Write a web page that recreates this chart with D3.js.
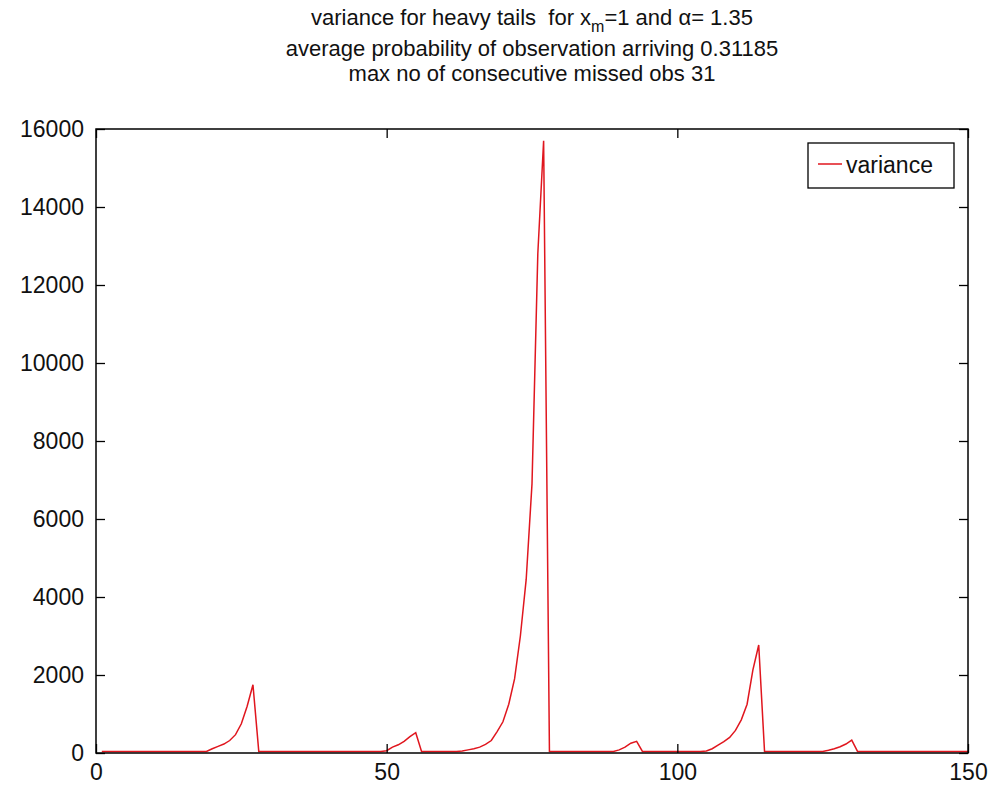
<!DOCTYPE html>
<html>
<head>
<meta charset="utf-8">
<script src="https://cdn.jsdelivr.net/npm/d3@7"></script>
<style>
  body { margin: 0; background: #fff; }
  svg { display: block; }
  text { font-family: "Liberation Sans", Arial, Helvetica, sans-serif; fill: #111; }
</style>
</head>
<body>
<div id="chart"></div>
<script>
// variance of the estimate at each step, k = 1..150
const steps = d3.range(1, 151);
const variance = [
  40, 40, 40, 40, 40, 40, 40, 40, 40, 40,
  40, 40, 40, 40, 40, 40, 40, 40, 40, 110,
  170, 230, 320, 470, 750, 1200, 1750, 40, 40, 40,
  40, 40, 40, 40, 40, 40, 40, 40, 40, 40,
  40, 40, 40, 40, 40, 40, 40, 40, 40, 60,
  150, 210, 300, 420, 520, 40, 40, 40, 40, 40,
  40, 40, 50, 80, 110, 150, 220, 320, 550, 800,
  1250, 1900, 3000, 4450, 6900, 12800, 15700, 40, 40, 40,
  40, 40, 40, 40, 40, 40, 40, 40, 40, 80,
  150, 250, 300, 40, 40, 40, 40, 40, 40, 40,
  40, 40, 40, 40, 50, 110, 200, 290, 400, 580,
  850, 1250, 2130, 2770, 40, 40, 40, 40, 40, 40,
  40, 40, 40, 40, 40, 70, 110, 160, 230, 330,
  40, 40, 40, 40, 40, 40, 40, 40, 40, 40,
  40, 40, 40, 40, 40, 40, 40, 40, 40, 40
];
const xTicks = [0, 50, 100, 150];
const yTicks = d3.range(0, 16001, 2000);
const titleLines = [
  "average probability of observation arriving 0.31185",
  "max no of consecutive missed obs 31"
];
const legendLabel = "variance";

const width = 989, height = 788;
const margin = {top: 129, right: 21, bottom: 35, left: 96};
const innerW = width - margin.left - margin.right;
const innerH = height - margin.top - margin.bottom;
const tickLen = 9;
const fontSize = 23;
const titleSize = 22;
const lineColor = "#e0161e";

const svg = d3.select("#chart").append("svg")
  .attr("width", width)
  .attr("height", height);

const x = d3.scaleLinear().domain([0, 150]).range([margin.left, margin.left + innerW]);
const y = d3.scaleLinear().domain([0, 16000]).range([margin.top + innerH, margin.top]);

// data line first so the frame sits on top of it
const line = d3.line()
  .x((d, i) => x(steps[i]))
  .y(d => y(d));

svg.append("path")
  .datum(variance)
  .attr("fill", "none")
  .attr("stroke", lineColor)
  .attr("stroke-width", 1.5)
  .attr("d", line);

// axes, ticks pointing inward on all four sides
function styleAxis(g) {
  g.select(".domain").remove();
  g.selectAll(".tick line").attr("stroke", "#000").attr("stroke-width", 1.3);
  g.selectAll(".tick text")
    .style("font-size", fontSize + "px")
    .style("font-family", "'Liberation Sans', Arial, sans-serif")
    .attr("fill", "#111");
}

svg.append("g")
  .attr("transform", `translate(0,${margin.top + innerH})`)
  .call(d3.axisBottom(x).tickValues(xTicks).tickFormat(d3.format("d"))
    .tickSizeInner(-tickLen).tickSizeOuter(0).tickPadding(11))
  .call(styleAxis);

svg.append("g")
  .attr("transform", `translate(0,${margin.top})`)
  .call(d3.axisTop(x).tickValues(xTicks).tickFormat("")
    .tickSizeInner(-tickLen).tickSizeOuter(0))
  .call(styleAxis);

svg.append("g")
  .attr("transform", `translate(${margin.left},0)`)
  .call(d3.axisLeft(y).tickValues(yTicks).tickFormat(d3.format("d"))
    .tickSizeInner(-tickLen).tickSizeOuter(0).tickPadding(12))
  .call(styleAxis);

svg.append("g")
  .attr("transform", `translate(${margin.left + innerW},0)`)
  .call(d3.axisRight(y).tickValues(yTicks).tickFormat("")
    .tickSizeInner(-tickLen).tickSizeOuter(0))
  .call(styleAxis);

// plot box
svg.append("rect")
  .attr("x", margin.left)
  .attr("y", margin.top)
  .attr("width", innerW)
  .attr("height", innerH)
  .attr("fill", "none")
  .attr("stroke", "#000")
  .attr("stroke-width", 1.5);

// title: first line carries a subscript and a greek letter
const cx = margin.left + innerW / 2;
const t1 = svg.append("text")
  .attr("x", cx)
  .attr("y", 25)
  .attr("text-anchor", "middle")
  .style("font-size", titleSize + "px")
  .style("white-space", "pre");
t1.append("tspan").text("variance for heavy tails  for x");
t1.append("tspan").attr("dy", 7).style("font-size", "16px").text("m");
t1.append("tspan").attr("dy", -7).text("=1 and \u03b1= 1.35");

svg.selectAll(".title-line")
  .data(titleLines)
  .join("text")
  .attr("class", "title-line")
  .attr("x", cx)
  .attr("y", (d, i) => 56 + i * 25)
  .attr("text-anchor", "middle")
  .style("font-size", titleSize + "px")
  .attr("textLength", null)
  .text(d => d);

// legend
const legend = svg.append("g").attr("transform", "translate(808,143)");
legend.append("rect")
  .attr("width", 146)
  .attr("height", 45)
  .attr("fill", "#fff")
  .attr("stroke", "#000")
  .attr("stroke-width", 1.3);
legend.append("line")
  .attr("x1", 10).attr("x2", 34)
  .attr("y1", 21).attr("y2", 21)
  .attr("stroke", lineColor)
  .attr("stroke-width", 1.5);
legend.append("text")
  .attr("x", 38)
  .attr("y", 30)
  .style("font-size", fontSize + "px")
  .text(legendLabel);
</script>
</body>
</html>
